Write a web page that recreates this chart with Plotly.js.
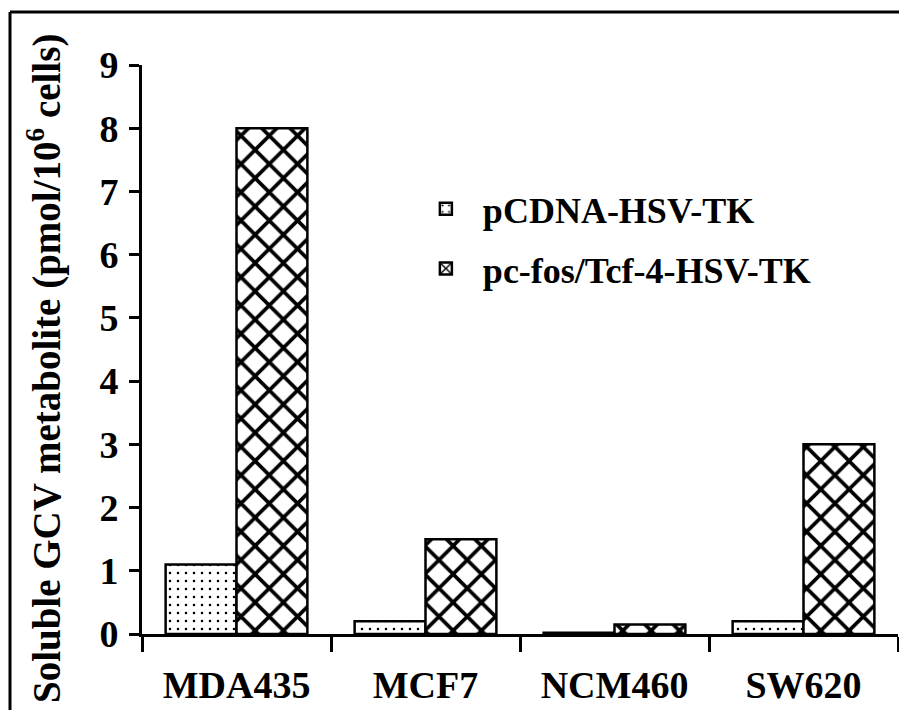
<!DOCTYPE html>
<html>
<head>
<meta charset="utf-8">
<script src="https://cdn.plot.ly/plotly-3.0.1.min.js"></script>
<style>html,body{margin:0;padding:0;background:#fff;}#chart{width:899px;height:710px;}</style>
</head>
<body>
<div id="chart"></div>
<script>
var categories = ["MDA435", "MCF7", "NCM460", "SW620"];
var seriesNames = ["pCDNA-HSV-TK", "pc-fos/Tcf-4-HSV-TK"];
var pcdnaValues = [1.1, 0.2, 0.02, 0.2];
var pcfosValues = [8.0, 1.5, 0.15, 3.0];
var yTickValues = [0, 1, 2, 3, 4, 5, 6, 7, 8, 9];
var yTitle = "Soluble GCV metabolite (pmol/10<sup>6</sup> cells)";

var serif = "Liberation Serif, Times New Roman, serif";

var traces = [
  {
    type: "bar", name: seriesNames[0], x: categories, y: pcdnaValues, legendgroup: "a",
    marker: {color: "white", line: {color: "black", width: 2.5},
      pattern: {shape: ".", size: 8, solidity: 0.08, fgcolor: "black", bgcolor: "white"}}
  },
  {
    type: "bar", name: seriesNames[1], x: categories, y: pcfosValues, legendgroup: "b",
    marker: {color: "white", line: {color: "black", width: 2.5},
      pattern: {shape: "x", size: 20, solidity: 0.33, fgcolor: "black", bgcolor: "white"}}
  }
];

var layout = {
  width: 899, height: 710,
  margin: {l: 142, r: 1, t: 65, b: 76},
  paper_bgcolor: "white", plot_bgcolor: "white",
  barmode: "group", bargap: 0.25, bargroupgap: 0,
  showlegend: true,
  font: {family: serif, color: "black"},
  legend: {x: 0.353, y: 0.80, xanchor: "left", yanchor: "top",
    font: {family: serif, size: 36, color: "black", weight: "bold"},
    bgcolor: "rgba(0,0,0,0)", itemwidth: 64, traceorder: "grouped", tracegroupgap: 10},
  xaxis: {type: "category", range: [-0.5, 3.5], showline: true, linecolor: "black", linewidth: 3,
    ticks: "outside", tickson: "boundaries", ticklen: 15, tickwidth: 3, tickcolor: "black",
    showgrid: false, zeroline: false, fixedrange: true, ticklabelstandoff: 15,
    tickfont: {family: serif, size: 38, color: "black", weight: "bold"}},
  yaxis: {range: [0, 9], tickvals: yTickValues, showline: true, linecolor: "black", linewidth: 3,
    ticks: "outside", ticklen: 10, tickwidth: 3, tickcolor: "black",
    showgrid: false, zeroline: false, fixedrange: true, ticklabelstandoff: 3,
    tickfont: {family: serif, size: 38, color: "black", weight: "bold"}},
  annotations: [
    {text: yTitle, xref: "paper", yref: "paper", x: -0.1296, y: 0.4657,
      xanchor: "center", yanchor: "middle", textangle: -90, showarrow: false,
      font: {family: serif, size: 39, color: "black", weight: "bold"}}
  ],
  shapes: [
    {type: "line", xref: "paper", yref: "paper", x0: -0.1746, x1: 1.01, y0: 1.093, y1: 1.093,
      line: {color: "black", width: 3}},
    {type: "line", xref: "paper", yref: "paper", x0: -0.1746, x1: -0.1746, y0: 1.093, y1: -0.2,
      line: {color: "black", width: 3}}
  ]
};

Plotly.newPlot("chart", traces, layout, {displayModeBar: false, staticPlot: true});
</script>
</body>
</html>
